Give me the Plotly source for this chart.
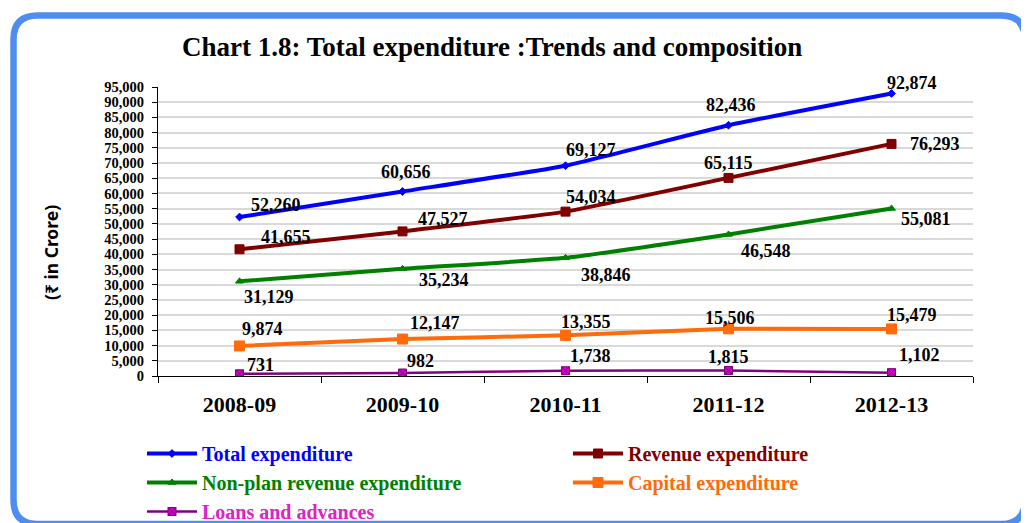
import plotly.graph_objects as go

years = ["2008-09", "2009-10", "2010-11", "2011-12", "2012-13"]
total_exp = [52260, 60656, 69127, 82436, 92874]
revenue_exp = [41655, 47527, 54034, 65115, 76293]
nonplan_rev_exp = [31129, 35234, 38846, 46548, 55081]
capital_exp = [9874, 12147, 13355, 15506, 15479]
loans_adv = [731, 982, 1738, 1815, 1102]

series_names = ["Total expenditure", "Revenue expenditure", "Non-plan revenue expenditure",
                "Capital expenditure", "Loans and advances"]

# styles
line_colors = ["#0000FF", "#800000", "#008000", "#FF6A0A", "#800080"]
marker_colors = ["#0000FF", "#800000", "#008000", "#FF6A0A", "#D000C8"]
text_colors = ["#0000FF", "#800000", "#008000", "#FF6A0A", "#E020C8"]
line_widths = [4, 4, 4, 4, 2.5]
marker_symbols = ["diamond", "square", "triangle-up", "square", "square-x"]
marker_sizes = [6, 9, 7, 10, 8]
# label offsets in pixels (dx, dy) relative to each point
label_offsets = [
    [(36, -12), (3, -19), (25, -16), (2, -20), (20, -10)],
    [(46, -12), (40, -12), (25, -15), (0, -15), (43, 0)],
    [(29, 16), (41, 11), (40, 17), (37, 17), (34, 11)],
    [(23, -17), (32, -16), (20, -13), (1, -11), (20, -14)],
    [(21, -9), (18, -12), (25, -15), (0, -13), (28, -18)],
]

all_series = [total_exp, revenue_exp, nonplan_rev_exp, capital_exp, loans_adv]

SERIF = "Liberation Serif"
fig = go.Figure()
for i, vals in enumerate(all_series):
    fig.add_trace(go.Scatter(
        x=years, y=vals, mode="lines+markers",
        name=f"<span style='color:{text_colors[i]}'>{series_names[i]}</span>",
        line=dict(color=line_colors[i], width=line_widths[i], shape="spline", smoothing=0.4),
        marker=dict(symbol=marker_symbols[i], size=marker_sizes[i], color=marker_colors[i],
                    line=dict(color=line_colors[i], width=1)),
    ))

annotations = []
for i, vals in enumerate(all_series):
    for j, v in enumerate(vals):
        dx, dy = label_offsets[i][j]
        annotations.append(dict(
            x=years[j], y=v, xref="x", yref="y", text=f"{v:,}", showarrow=False,
            xshift=dx, yshift=-dy, font=dict(family=SERIF, size=18, color="black", weight="bold"),
        ))

# pixel geometry (page is offset by the 8px body margin)
OFF = 8
W, H = 1029 - OFF, 523 - OFF
L, T = 158 - OFF, 87 - OFF
R, B = W - (973 - OFF), H - (376 - OFF)
pw, ph = W - L - R, H - T - B
def px(x):
    return (x - OFF - L) / pw
def py(y):
    return (H - B - (y - OFF)) / ph

annotations.append(dict(
    x=px(492), y=py(47), xref="paper", yref="paper", showarrow=False, xanchor="center", yanchor="middle",
    text="Chart 1.8: Total expenditure :Trends and composition",
    font=dict(family=SERIF, size=27, color="black", weight="bold"),
))
annotations.append(dict(
    x=px(51), y=py(253), xref="paper", yref="paper", showarrow=False, textangle=-90,
    xanchor="center", yanchor="middle",
    text="(₹ in Crore)", font=dict(family="Noto Sans, DejaVu Sans", size=17.5, color="black", weight="bold"),
))

# rounded border
x0, x1, y0, y1, r = 13.5, 1025, 15.5, 524, 24
path = (f"M {px(x0)},{py(y0 + r)} Q {px(x0)},{py(y0)} {px(x0 + r)},{py(y0)} "
        f"L {px(x1 - r)},{py(y0)} Q {px(x1)},{py(y0)} {px(x1)},{py(y0 + r)} "
        f"L {px(x1)},{py(y1 - r)} Q {px(x1)},{py(y1)} {px(x1 - r)},{py(y1)} "
        f"L {px(x0 + r)},{py(y1)} Q {px(x0)},{py(y1)} {px(x0)},{py(y1 - r)} Z")
shapes = [dict(type="path", xref="paper", yref="paper", path=path,
               line=dict(color="#4F8EF0", width=6.5))]

fig.update_layout(
    width=W, height=H,
    margin=dict(l=L, r=R, t=T, b=B, autoexpand=False),
    paper_bgcolor="white", plot_bgcolor="white",
    showlegend=True,
    legend=dict(orientation="h", x=px(142), y=py(434), xanchor="left", yanchor="top",
                entrywidth=361, entrywidthmode="pixels", itemwidth=50,
                font=dict(family=SERIF, size=20, weight="bold"), tracegroupgap=0,
                bgcolor="rgba(0,0,0,0)"),
    xaxis=dict(type="category", range=[-0.5, 4.5], showline=True, linecolor="black", linewidth=1,
               ticks="outside", tickson="boundaries", ticklen=6, tickcolor="black",
               ticklabelstandoff=9,
               showgrid=False, tickfont=dict(family=SERIF, size=22, color="black", weight="bold")),
    yaxis=dict(range=[0, 95000], dtick=5000, tickformat=",", showline=True, linecolor="black",
               linewidth=1, ticks="outside", ticklen=5, tickcolor="black", ticklabelstandoff=5,
               gridcolor="#D9D9D9", gridwidth=1.5, zeroline=False,
               tickfont=dict(family=SERIF, size=14.5, color="black", weight="bold")),
    annotations=annotations,
    shapes=shapes,
)

fig.write_html("out.html")
